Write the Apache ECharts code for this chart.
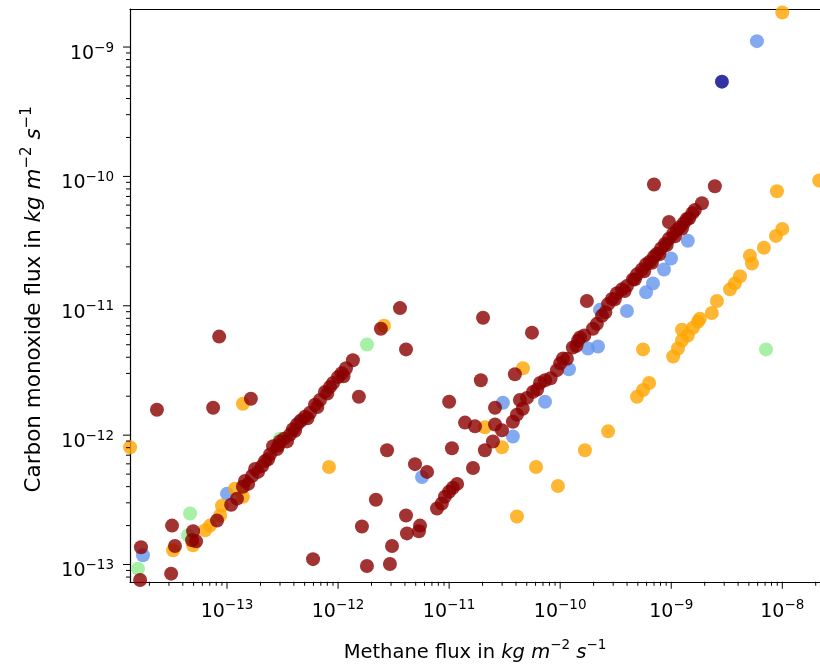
<!DOCTYPE html>
<html>
<head>
<meta charset="utf-8">
<script src="https://cdn.jsdelivr.net/npm/echarts@6/dist/echarts.min.js"></script>
<style>
html,body{margin:0;padding:0;background:#fff;}
#chart{width:820px;height:668px;}
</style>
</head>
<body>
<div id="chart"></div>
<script>
// ---- axis ranges and ticks ----
const X_MIN = 1.338e-14, X_MAX = 2.185e-8;
const Y_MIN = 7.36e-14, Y_MAX = 1.968e-9;
const xTickValues = [1e-13, 1e-12, 1e-11, 1e-10, 1e-9, 1e-8];
const xTickLabels = ['−13', '−12', '−11', '−10', '−9', '−8'];
const yTickValues = [1e-13, 1e-12, 1e-11, 1e-10, 1e-9];
const yTickLabels = ['−13', '−12', '−11', '−10', '−9'];
const minorMantissas = [2, 3, 4, 5, 6, 7, 8, 9];
const minorDecades = [1e-14, 1e-13, 1e-12, 1e-11, 1e-10, 1e-9, 1e-8];

// ---- data: [methane flux, carbon monoxide flux] ----
const darkRedPoints = [
 [1.68e-14,1.36e-13],[1.65e-14,7.6e-14],[3.14e-14,8.5e-14],[3.20e-14,2.0e-13],[3.40e-14,1.39e-13],
 [4.95e-14,1.81e-13],[4.85e-14,1.54e-13],[5.27e-14,1.51e-13],[8.13e-14,2.19e-13],[1.09e-13,2.9e-13],
 [1.23e-13,3.23e-13],[1.39e-13,3.99e-13],[1.45e-13,4.43e-13],[1.55e-13,4.2e-13],[1.68e-13,4.84e-13],
 [1.79e-13,5.47e-13],[1.9e-13,5.2e-13],[2.07e-13,5.77e-13],[2.20e-13,6.3e-13],[2.34e-13,6.5e-13],[2.44e-13,7.1e-13],
 [2.60e-13,8.2e-13],[2.82e-13,7.8e-13],[2.9e-13,8.3e-13],[3.0e-13,8.95e-13],[3.26e-13,9.4e-13],[3.47e-13,8.95e-13],
 [3.69e-13,1.01e-12],[3.93e-13,1.11e-12],[4.1e-13,1.08e-12],[4.27e-13,1.21e-12],[4.64e-13,1.30e-12],[5.04e-13,1.39e-12],
 [5.3e-13,1.35e-12],[5.59e-13,1.49e-12],[6.2e-13,1.72e-12],[6.5e-13,1.65e-12],[6.87e-13,1.87e-12],[7.62e-13,2.16e-12],
 [8.0e-13,2.1e-12],[8.45e-13,2.36e-12],
 [9.0e-13,2.53e-12],[1.0e-12,2.81e-12],[1.08e-12,3.01e-12],[1.12e-12,2.85e-12],[1.18e-12,3.29e-12],[1.36e-12,3.79e-12],
 [2.43e-12,6.65e-12],
 [8.5e-14,5.78e-12],[2.34e-14,1.57e-12],[7.5e-14,1.63e-12],[1.64e-13,1.91e-12],[1.54e-12,1.98e-12],
 [5.95e-13,1.10e-13],[1.64e-12,1.97e-13],[2.19e-12,3.17e-13],[1.82e-12,9.75e-14],[2.93e-12,1.01e-13],
 [3.06e-12,1.39e-13],[4.09e-12,2.39e-13],[2.76e-12,7.64e-13],[3.61e-12,9.6e-12],[4.09e-12,4.6e-12],
 [2.02e-11,8.08e-12],[5.57e-11,6.2e-12],[3.91e-11,2.96e-12],[1.93e-11,2.66e-12],[1.0e-11,1.81e-12],
 [2.59e-11,1.63e-12],[1.39e-11,1.25e-12],[1.71e-11,1.17e-12],[2.59e-11,1.21e-12],[2.99e-11,1.09e-12],
 [2.48e-11,8.94e-13],[2.10e-11,7.64e-13],[1.64e-11,5.57e-13],[1.06e-11,7.92e-13],[4.93e-12,5.97e-13],
 [6.33e-12,5.2e-13],[7.78e-12,2.71e-13],[8.6e-12,2.96e-13],[9.15e-12,3.34e-13],[1.0e-11,3.65e-13],
 [1.08e-11,3.92e-13],[1.18e-11,4.2e-13],[4.17e-12,1.74e-13],[5.47e-12,2.0e-13],[5.35e-12,1.81e-13],
 [3.75e-11,1.27e-12],[4.08e-11,1.44e-12],[4.34e-11,1.87e-12],[4.6e-11,1.6e-12],[5.02e-11,1.94e-12],[5.69e-11,2.16e-12],
 [6.2e-11,2.25e-12],[6.58e-11,2.53e-12],[7.3e-11,2.66e-12],[8.2e-11,2.75e-12],[9.36e-11,3.18e-12],[1.06e-10,3.92e-12],
 [1.0e-10,3.59e-12],[1.15e-10,3.9e-12],
 [1.30e-10,4.76e-12],[1.4e-10,4.9e-12],[1.45e-10,5.39e-12],[1.51e-10,5.68e-12],[1.65e-10,5.9e-12],[1.74e-10,1.09e-11],
 [1.97e-10,6.65e-12],
 [2.14e-10,7.25e-12],[2.38e-10,8.37e-12],[2.55e-10,8.9e-12],[2.70e-10,1.03e-11],[2.93e-10,1.13e-11],[3.1e-10,1.12e-11],
 [3.25e-10,1.25e-11],[3.6e-10,1.34e-11],[3.8e-10,1.3e-11],[3.99e-10,1.42e-11],[4.52e-10,1.60e-11],[4.7e-10,1.6e-11],
 [4.92e-10,1.75e-11],[5.45e-10,1.91e-11],[5.7e-10,1.85e-11],
 [5.93e-10,2.09e-11],[6.44e-10,2.2e-11],[6.7e-10,2.15e-11],[6.99e-10,2.4e-11],[7.44e-10,2.53e-11],[7.8e-10,2.5e-11],
 [8.1e-10,2.77e-11],[8.79e-10,3.02e-11],[9.1e-10,2.95e-11],[9.54e-10,3.3e-11],[1.04e-9,3.6e-11],[1.08e-9,3.45e-11],
 [1.13e-9,3.86e-11],[1.20e-9,4.07e-11],[1.25e-9,3.95e-11],
 [1.30e-9,4.37e-11],[1.38e-9,4.69e-11],[1.45e-9,4.75e-11],[1.55e-9,5.2e-11],[1.63e-9,5.49e-11],[1.89e-9,6.21e-11],
 [2.47e-9,8.39e-11],[6.99e-10,8.67e-11],[9.54e-10,4.44e-11]
];
const orangePoints = [
 [1.34e-14,8.06e-13],[3.27e-14,1.29e-13],[4.95e-14,1.41e-13],[6.35e-14,1.84e-13],[7.03e-14,2.0e-13],
 [8.66e-14,2.39e-13],[9.0e-14,2.85e-13],[1.18e-13,3.85e-13],[1.39e-13,3.34e-13],[1.39e-13,1.75e-12],
 [8.29e-13,5.67e-13],[2.59e-12,7.0e-12],[2.10e-11,1.15e-12],[2.99e-11,8.06e-13],[4.62e-11,3.29e-12],
 [4.08e-11,2.35e-13],[6.06e-11,5.67e-13],[9.54e-11,4.05e-13],[1.67e-10,7.64e-13],[2.70e-10,1.07e-12],
 [4.92e-10,1.98e-12],[5.57e-10,2.23e-12],[6.32e-10,2.53e-12],[5.57e-10,4.6e-12],[1.04e-9,4.06e-12],
 [1.15e-9,4.68e-12],[1.25e-9,5.39e-12],[1.25e-9,6.53e-12],[1.41e-9,5.89e-12],[1.57e-9,6.77e-12],
 [1.74e-9,7.52e-12],[1.81e-9,7.93e-12],[2.32e-9,8.8e-12],[2.58e-9,1.09e-11],[3.38e-9,1.34e-11],
 [3.74e-9,1.49e-11],[4.16e-9,1.69e-11],[5.33e-9,2.12e-11],[5.11e-9,2.44e-11],[6.83e-9,2.81e-11],
 [8.77e-9,3.47e-11],[1.0e-8,3.93e-11],[8.95e-9,7.67e-11],[2.15e-8,9.3e-11],[1.0e-8,1.85e-9]
];
const bluePoints = [
 [1.75e-14,1.18e-13],[1.0e-13,3.52e-13],[4.54e-13,1.27e-12],[5.7e-12,4.75e-13],[3.05e-11,1.78e-12],
 [3.75e-11,9.77e-13],[7.3e-11,1.81e-12],[1.20e-10,3.23e-12],[1.78e-10,4.68e-12],[2.19e-10,4.85e-12],
 [2.28e-10,9.3e-12],[3.99e-10,9.12e-12],[5.93e-10,1.27e-11],[6.85e-10,1.49e-11],[8.6e-10,1.91e-11],
 [9.95e-10,2.32e-11],[1.41e-9,3.18e-11],[5.91e-9,1.11e-9]
];
const greenPoints = [
 [1.58e-14,9.28e-14],[4.65e-14,2.48e-13],[4.46e-14,1.68e-13],[3.0e-13,9.4e-13],[1.82e-12,5.02e-12],[7.13e-9,4.6e-12]
];
const navyPoints = [
 [2.86e-9,5.4e-10]
];

// ---- styling helpers ----
const FONT = 'DejaVu Sans';
const tickRich = {
  b: {fontFamily: FONT, fontSize: 19, color: '#000', lineHeight: 26},
  s: {fontFamily: FONT, fontSize: 13.5, color: '#000', lineHeight: 12, verticalAlign: 'top'}
};
function makeNameRich(fs, sfs) {
  return {
    n: {fontFamily: FONT, fontSize: fs, color: '#000', lineHeight: fs + 9},
    i: {fontFamily: FONT, fontSize: fs, color: '#000', lineHeight: fs + 9, fontStyle: 'italic'},
    s: {fontFamily: FONT, fontSize: sfs, color: '#000', lineHeight: sfs, verticalAlign: 'top'}
  };
}
const unitText = '{n|flux in }{i|kg}{n| }{i|m}{s|−2}{n| }{i|s}{s|−1}';

const xMinor = [], yMinor = [];
minorDecades.forEach(d => minorMantissas.forEach(m => {
  const v = d * m;
  if (v > X_MIN && v < X_MAX) xMinor.push([v, Y_MIN]);
  if (v > Y_MIN && v < Y_MAX) yMinor.push([X_MIN, v]);
}));

function scatter(name, data, color) {
  return {
    type: 'scatter', name, data, symbolSize: 14, symbol: 'circle',
    itemStyle: {color: color, opacity: 1, borderWidth: 0},
    emphasis: {disabled: true}, silent: true, animation: false
  };
}

function tickSeries(data, horizontal, len, labels) {
  return {
    type: 'custom', data, clip: false, silent: true, animation: false, z: 10,
    renderItem: function (params, api) {
      const p = api.coord([api.value(0), api.value(1)]);
      const children = [];
      if (horizontal) {
        children.push({type: 'line', shape: {x1: p[0], y1: p[1], x2: p[0], y2: p[1] + len},
          style: {stroke: '#000', lineWidth: 1}});
        if (labels) children.push({type: 'text', x: p[0], y: p[1] + 17,
          style: {text: '{b|10}{s|' + labels[params.dataIndex] + '}', rich: tickRich, align: 'center', verticalAlign: 'top'}});
      } else {
        children.push({type: 'line', shape: {x1: p[0] - len, y1: p[1], x2: p[0], y2: p[1]},
          style: {stroke: '#000', lineWidth: 1}});
        if (labels) children.push({type: 'text', x: p[0] - 16, y: p[1] + 7,
          style: {text: '{b|10}{s|' + labels[params.dataIndex] + '}', rich: tickRich, align: 'right', verticalAlign: 'middle'}});
      }
      return {type: 'group', children};
    }
  };
}

const chart = echarts.init(document.getElementById('chart'), null, {renderer: 'canvas'});
chart.setOption({
  animation: false,
  backgroundColor: '#fff',
  grid: {left: 130, right: 0, top: 9, bottom: 79, containLabel: false},
  xAxis: [
    {type: 'log', logBase: 10, min: X_MIN, max: X_MAX, position: 'bottom',
     axisLine: {show: true, lineStyle: {color: '#000', width: 1.2}},
     axisTick: {show: false}, axisLabel: {show: false}, splitLine: {show: false}, minorTick: {show: false},
     name: '{n|Methane }' + unitText, nameLocation: 'middle', nameGap: 57,
     nameTextStyle: {rich: makeNameRich(19.5, 13.5)}},
    {type: 'log', logBase: 10, min: X_MIN, max: X_MAX, position: 'top',
     axisLine: {show: true, lineStyle: {color: '#000', width: 1.2}},
     axisTick: {show: false}, axisLabel: {show: false}, splitLine: {show: false}}
  ],
  yAxis: [
    {type: 'log', logBase: 10, min: Y_MIN, max: Y_MAX, position: 'left',
     axisLine: {show: true, lineStyle: {color: '#000', width: 1.2}},
     axisTick: {show: false}, axisLabel: {show: false}, splitLine: {show: false},
     name: '{n|Carbon monoxide }' + unitText, nameLocation: 'middle', nameGap: 80, nameRotate: 90,
     nameTextStyle: {rich: makeNameRich(21.5, 15), padding: [0, 8, 0, 0]}}
  ],
  series: [
    scatter('navy', navyPoints, 'rgba(0,0,139,0.8)'),
    scatter('cornflowerblue', bluePoints, 'rgba(100,149,237,0.8)'),
    scatter('lightgreen', greenPoints, 'rgba(144,238,144,0.8)'),
    scatter('orange', orangePoints, 'rgba(255,165,0,0.8)'),
    scatter('darkred', darkRedPoints, 'rgba(139,0,0,0.8)'),
    tickSeries(xTickValues.map(v => [v, Y_MIN]), true, 7, xTickLabels),
    tickSeries(xMinor, true, 4, null),
    tickSeries(yTickValues.map(v => [X_MIN, v]), false, 7, yTickLabels),
    tickSeries(yMinor, false, 4, null)
  ]
});
</script>
</body>
</html>
